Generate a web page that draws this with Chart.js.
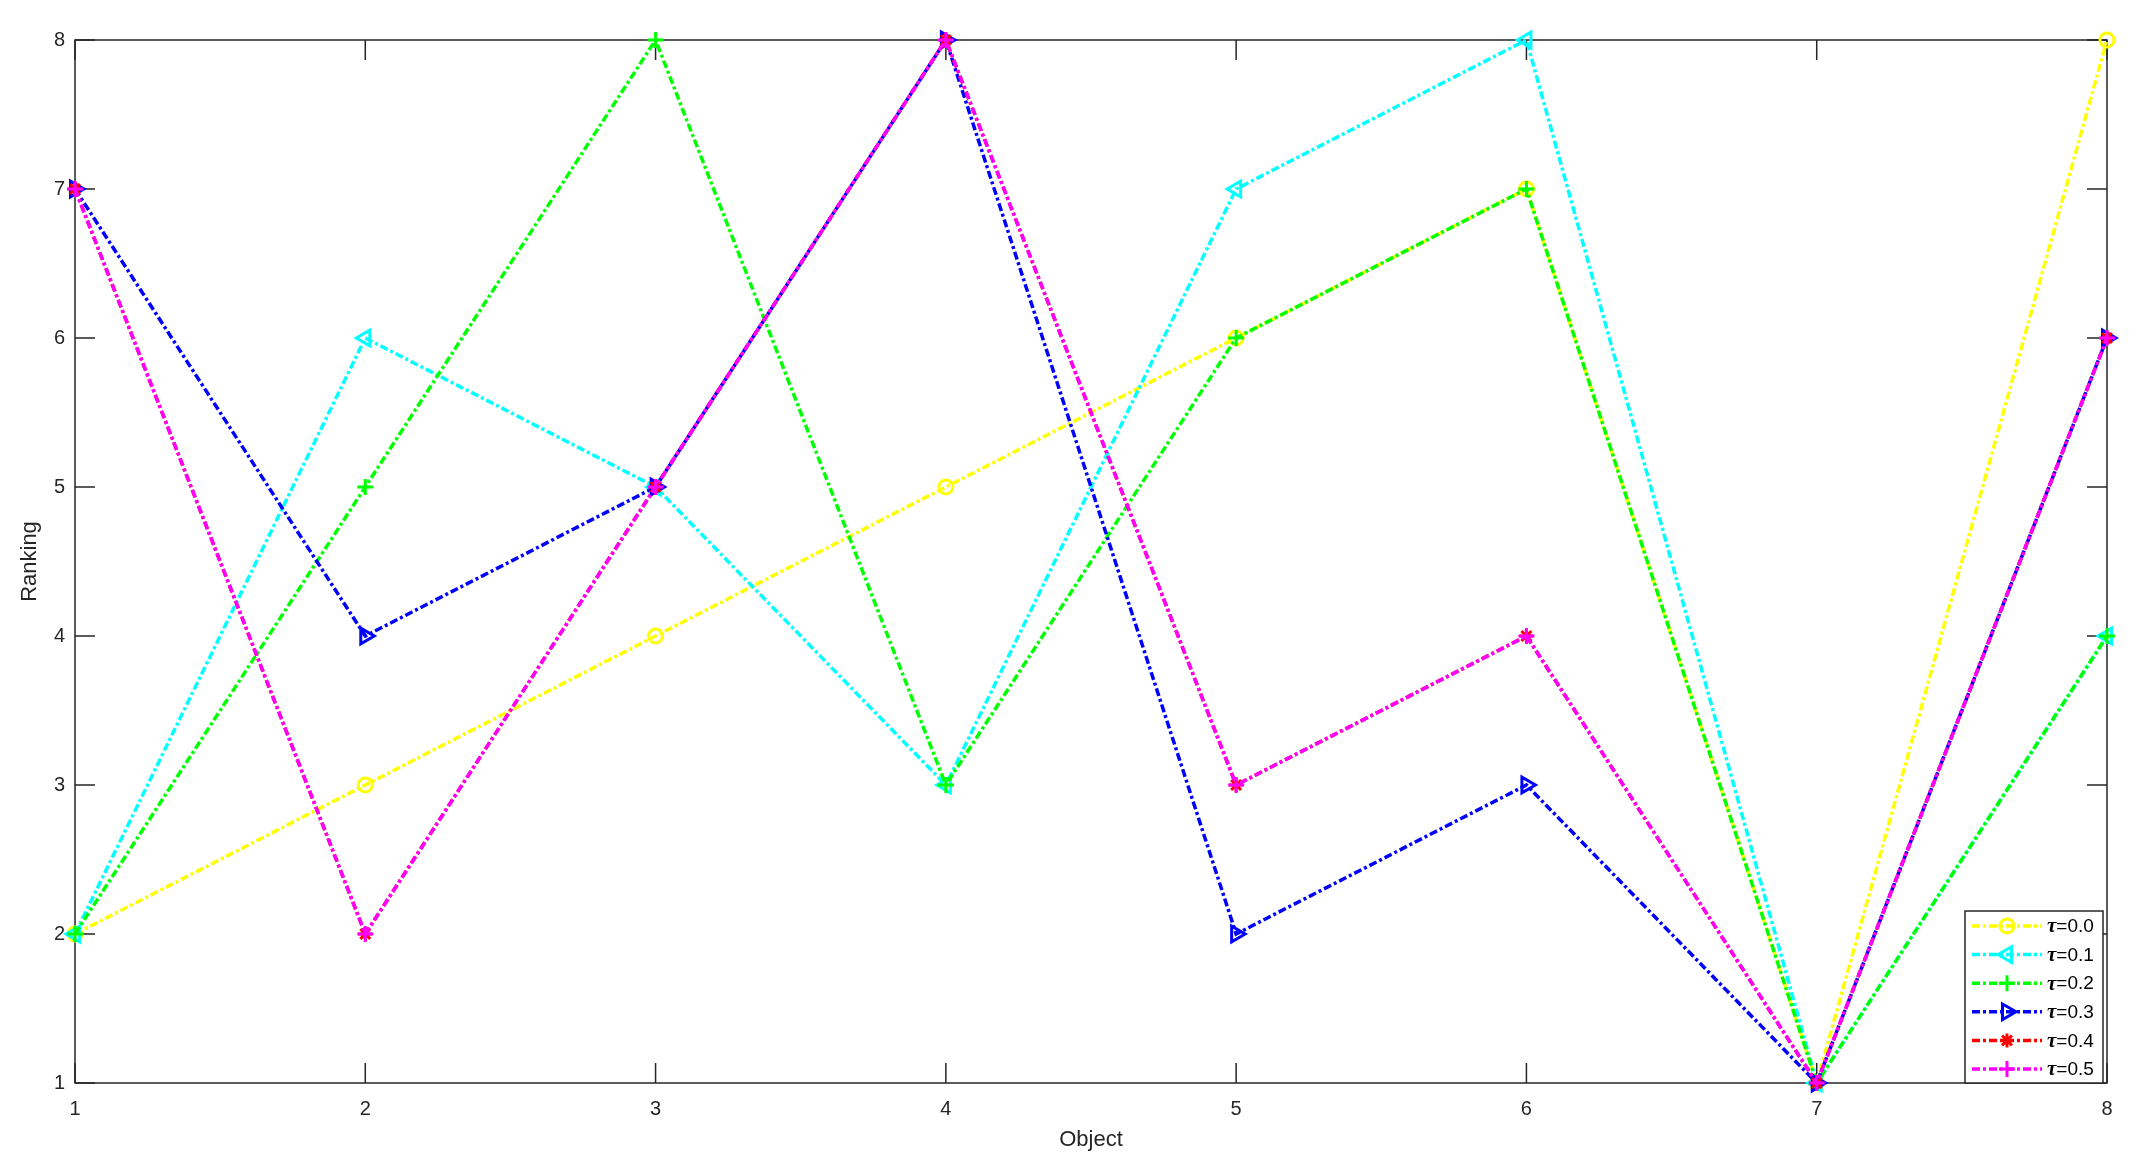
<!DOCTYPE html>
<html>
<head>
<meta charset="utf-8">
<script src="https://cdn.jsdelivr.net/npm/chart.js@4.4.1/dist/chart.umd.min.js"></script>
<style>
  html, body { margin: 0; padding: 0; background: #fff; }
  #wrap { width: 2148px; height: 1171px; }
</style>
</head>
<body>
<div id="wrap"><canvas id="rankChart"></canvas></div>
<script>
'use strict';

// objects on the x axis
var objects = [1, 2, 3, 4, 5, 6, 7, 8];
var yTicks = [1, 2, 3, 4, 5, 6, 7, 8];

// ranking per tau value
var tau00 = [2, 3, 4, 5, 6, 7, 1, 8];
var tau01 = [2, 6, 5, 3, 7, 8, 1, 4];
var tau02 = [2, 5, 8, 3, 6, 7, 1, 4];
var tau03 = [7, 4, 5, 8, 2, 3, 1, 6];
var tau04 = [7, 2, 5, 8, 3, 4, 1, 6];
var tau05 = [7, 2, 5, 8, 3, 4, 1, 6];

var seriesNames = ['0.0', '0.1', '0.2', '0.3', '0.4', '0.5'];
var seriesData = [tau00, tau01, tau02, tau03, tau04, tau05];
var seriesColors = ['#ffff00', '#00ffff', '#00ff00', '#0000ff', '#ff0000', '#ff00ff'];
var seriesMarkers = [
    { style: 'circle', rot: 0, r: 7 },
    { style: 'triangle', rot: -90, r: 9 },
    { style: 'cross', rot: 0, r: 8 },
    { style: 'triangle', rot: 90, r: 9 },
    { style: 'star', rot: 0, r: 7 },
    { style: 'cross', rot: 0, r: 8 }
];

var dashStyle = [8, 3, 3, 3];
var axisColor = '#262626';
var tickFont = { family: 'Liberation Sans, Arial, sans-serif', size: 20 };

function toPoints(vals) {
    return vals.map(function (v, i) { return { x: objects[i], y: v }; });
}

var datasets = seriesData.map(function (vals, i) {
    return {
        label: '\u03c4=' + seriesNames[i],
        data: toPoints(vals),
        borderColor: seriesColors[i],
        backgroundColor: 'rgba(0,0,0,0)',
        borderWidth: 3.5,
        borderDash: dashStyle,
        pointStyle: seriesMarkers[i].style,
        pointRotation: seriesMarkers[i].rot,
        pointRadius: seriesMarkers[i].r,
        pointBorderWidth: 3,
        pointBorderColor: seriesColors[i],
        pointBackgroundColor: seriesMarkers[i].style === 'star' ? seriesColors[i] : 'rgba(0,0,0,0)',
        tension: 0,
        clip: false,
        order: seriesData.length - i
    };
});

// box round the plot with inward ticks on all four sides
var framePlugin = {
    id: 'frame',
    beforeDatasetsDraw: function (chart) {
        var ctx = chart.ctx;
        var a = chart.chartArea;
        var xs = chart.scales.x;
        var ys = chart.scales.y;
        var len = 20;
        ctx.save();
        ctx.strokeStyle = axisColor;
        ctx.lineWidth = 1.5;
        ctx.strokeRect(a.left, a.top, a.right - a.left, a.bottom - a.top);
        ctx.beginPath();
        objects.forEach(function (v) {
            var px = xs.getPixelForValue(v);
            ctx.moveTo(px, a.bottom); ctx.lineTo(px, a.bottom - len);
            ctx.moveTo(px, a.top); ctx.lineTo(px, a.top + len);
        });
        yTicks.forEach(function (v) {
            var py = ys.getPixelForValue(v);
            ctx.moveTo(a.left, py); ctx.lineTo(a.left + len, py);
            ctx.moveTo(a.right, py); ctx.lineTo(a.right - len, py);
        });
        ctx.stroke();
        ctx.restore();
    }
};

// matlab style legend in the lower right corner
var legendPlugin = {
    id: 'matLegend',
    afterDraw: function (chart) {
        var ctx = chart.ctx;
        var a = chart.chartArea;
        var boxW = 138, boxH = 172;
        var bx = a.right - 4 - boxW, by = a.bottom - boxH;
        ctx.save();
        ctx.fillStyle = '#fff';
        ctx.fillRect(bx, by, boxW, boxH);
        ctx.strokeStyle = axisColor;
        ctx.lineWidth = 1.5;
        ctx.strokeRect(bx, by, boxW, boxH);
        seriesData.forEach(function (vals, i) {
            var y = by + 15 + i * 28.6;
            var col = seriesColors[i];
            ctx.strokeStyle = col;
            ctx.lineWidth = 3.5;
            ctx.setLineDash(dashStyle);
            ctx.beginPath();
            ctx.moveTo(bx + 7, y);
            ctx.lineTo(bx + 77, y);
            ctx.stroke();
            ctx.setLineDash([]);
            var m = seriesMarkers[i];
            ctx.fillStyle = m.style === 'star' ? col : 'rgba(0,0,0,0)';
            ctx.lineWidth = 3;
            Chart.helpers.drawPoint(ctx, {
                pointStyle: m.style, rotation: m.rot, radius: m.r, borderWidth: 3
            }, bx + 42, y);
            ctx.fillStyle = '#000';
            ctx.textBaseline = 'middle';
            ctx.textAlign = 'left';
            ctx.font = 'italic bold 21px "Liberation Serif", serif';
            ctx.fillText('\u03c4', bx + 82, y + 1);
            var tw = ctx.measureText('\u03c4').width;
            ctx.font = '19px "Liberation Sans", Arial, sans-serif';
            ctx.fillText('=' + seriesNames[i], bx + 82 + tw, y + 1);
        });
        ctx.restore();
    }
};

new Chart(document.getElementById('rankChart'), {
    type: 'line',
    data: { datasets: datasets },
    options: {
        responsive: true,
        maintainAspectRatio: false,
        animation: false,
        layout: { padding: { top: 40, right: 41, left: 0, bottom: 0 } },
        plugins: {
            legend: { display: false },
            tooltip: { enabled: false }
        },
        scales: {
            x: {
                type: 'linear',
                min: 1,
                max: 8,
                afterFit: function (s) { s.height = 88; },
                afterBuildTicks: function (s) { s.ticks = objects.map(function (v) { return { value: v }; }); },
                grid: { display: false, drawTicks: false },
                border: { display: false },
                ticks: { color: axisColor, font: tickFont, padding: 14, maxRotation: 0 },
                title: {
                    display: true,
                    text: 'Object',
                    color: axisColor,
                    font: { family: 'Liberation Sans, Arial, sans-serif', size: 22 },
                    padding: { top: 0, bottom: 18 }
                }
            },
            y: {
                type: 'linear',
                min: 1,
                max: 8,
                afterFit: function (s) { s.width = 75; },
                afterBuildTicks: function (s) { s.ticks = yTicks.map(function (v) { return { value: v }; }); },
                grid: { display: false, drawTicks: false },
                border: { display: false },
                ticks: { color: axisColor, font: tickFont, padding: 10 },
                title: {
                    display: true,
                    text: 'Ranking',
                    color: axisColor,
                    font: { family: 'Liberation Sans, Arial, sans-serif', size: 22 },
                    padding: { top: 17, bottom: 0 }
                }
            }
        }
    },
    plugins: [framePlugin, legendPlugin]
});
</script>
</body>
</html>
